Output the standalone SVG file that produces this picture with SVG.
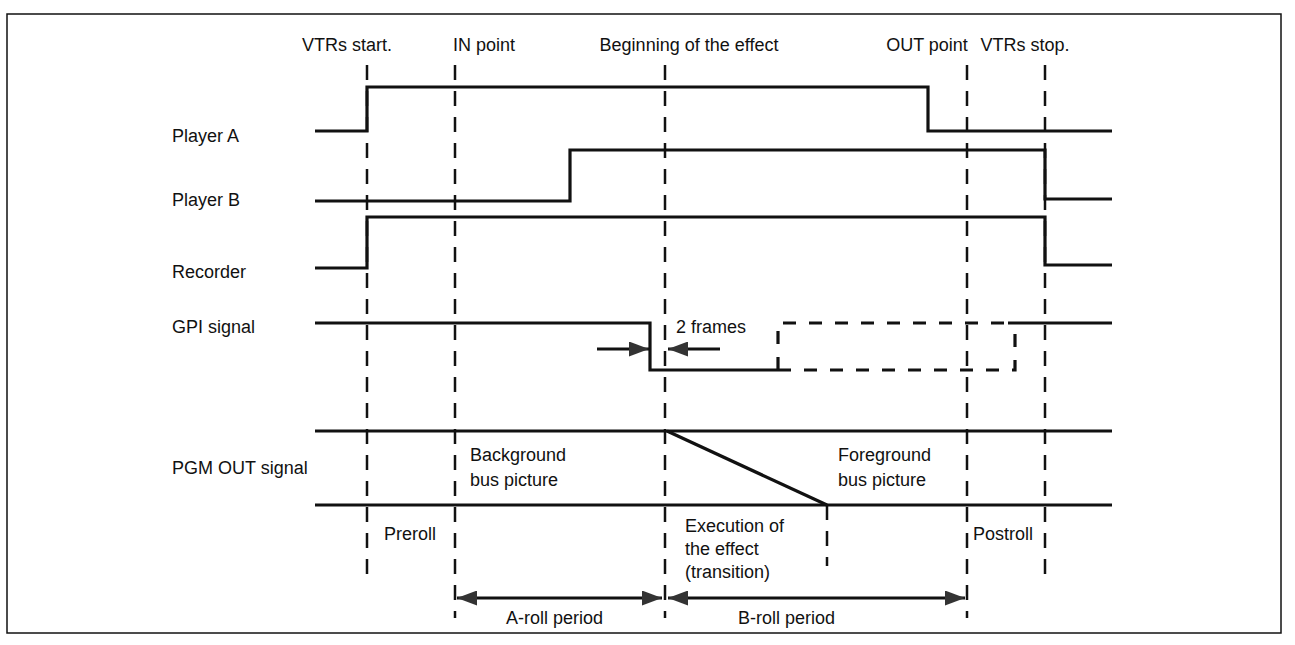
<svg xmlns="http://www.w3.org/2000/svg" width="1295" height="645" viewBox="0 0 1295 645">
<style>
text{font-family:"Liberation Sans",Arial,sans-serif;font-size:18px;fill:#111}
.c{text-anchor:middle}
.sig{fill:none;stroke:#111;stroke-width:3.2;stroke-linejoin:miter}
.dsig{fill:none;stroke:#111;stroke-width:3.2;stroke-dasharray:13,13}
.guide{fill:none;stroke:#111;stroke-width:2.5;stroke-dasharray:15,11}
.arr{fill:none;stroke:#111;stroke-width:3.2}
</style>
<defs>
<marker id="ah" viewBox="0 0 20 15" refX="20" refY="7.5" markerWidth="20" markerHeight="15" markerUnits="userSpaceOnUse" orient="auto-start-reverse">
<path d="M0,0 L20,7.5 L0,15 Z" fill="#333"/>
</marker>
</defs>
<rect x="7" y="14" width="1274" height="619" fill="none" stroke="#111" stroke-width="1.5"/>
<g id="headers">
<text class="c" x="347" y="51">VTRs start.</text>
<text class="c" x="484" y="51">IN point</text>
<text class="c" x="689" y="51">Beginning of the effect</text>
<text class="c" x="927" y="51">OUT point</text>
<text class="c" x="1025" y="51">VTRs stop.</text>
</g>
<g id="guides">
<line class="guide" x1="367" y1="65" x2="367" y2="578"/>
<line class="guide" x1="455" y1="65" x2="455" y2="618"/>
<line class="guide" x1="665" y1="65" x2="665" y2="618"/>
<line class="guide" x1="967" y1="65" x2="967" y2="618"/>
<line class="guide" x1="1045" y1="65" x2="1045" y2="578"/>
<line class="guide" x1="827" y1="505" x2="827" y2="566"/>
</g>
<g id="player-a">
<text x="172" y="142">Player A</text>
<polyline class="sig" points="315,131 367,131 367,87 928,87 928,131 1112,131"/>
</g>
<g id="player-b">
<text x="172" y="206">Player B</text>
<polyline class="sig" points="315,201 570,201 570,150 1045,150 1045,199 1112,199"/>
</g>
<g id="recorder">
<text x="172" y="278">Recorder</text>
<polyline class="sig" points="315,268 367,268 367,217 1045,217 1045,265 1112,265"/>
</g>
<g id="gpi">
<text x="172" y="333">GPI signal</text>
<polyline class="sig" points="315,323 650,323 650,370 778,370"/>
<polyline class="dsig" points="778,370 778,323 1010,323"/>
<polyline class="dsig" points="778,370 1015,370 1015,323"/>
<line class="sig" x1="1008" y1="323" x2="1112" y2="323"/>
<text x="676" y="333">2 frames</text>
</g>
<g id="pgm">
<text x="172" y="474">PGM OUT signal</text>
<line class="sig" x1="315" y1="431" x2="1112" y2="431"/>
<line class="sig" x1="315" y1="505" x2="1112" y2="505"/>
<line class="sig" x1="667" y1="431" x2="827" y2="505"/>
<text x="470" y="461">Background</text>
<text x="470" y="486">bus picture</text>
<text x="838" y="461">Foreground</text>
<text x="838" y="486">bus picture</text>
</g>
<g id="periods">
<text x="384" y="540">Preroll</text>
<text x="685" y="532">Execution of</text>
<text x="685" y="555">the effect</text>
<text x="685" y="578">(transition)</text>
<text x="973" y="540">Postroll</text>
<text x="506" y="624">A-roll period</text>
<text x="738" y="624">B-roll period</text>
</g>
<g id="connectors">
<line class="arr" x1="597" y1="349" x2="649" y2="349" marker-end="url(#ah)"/>
<line class="arr" x1="720" y1="349" x2="668" y2="349" marker-end="url(#ah)"/>
<line class="arr" x1="457" y1="598" x2="662" y2="598" marker-start="url(#ah)" marker-end="url(#ah)"/>
<line class="arr" x1="668" y1="598" x2="965" y2="598" marker-start="url(#ah)" marker-end="url(#ah)"/>
</g>
</svg>
